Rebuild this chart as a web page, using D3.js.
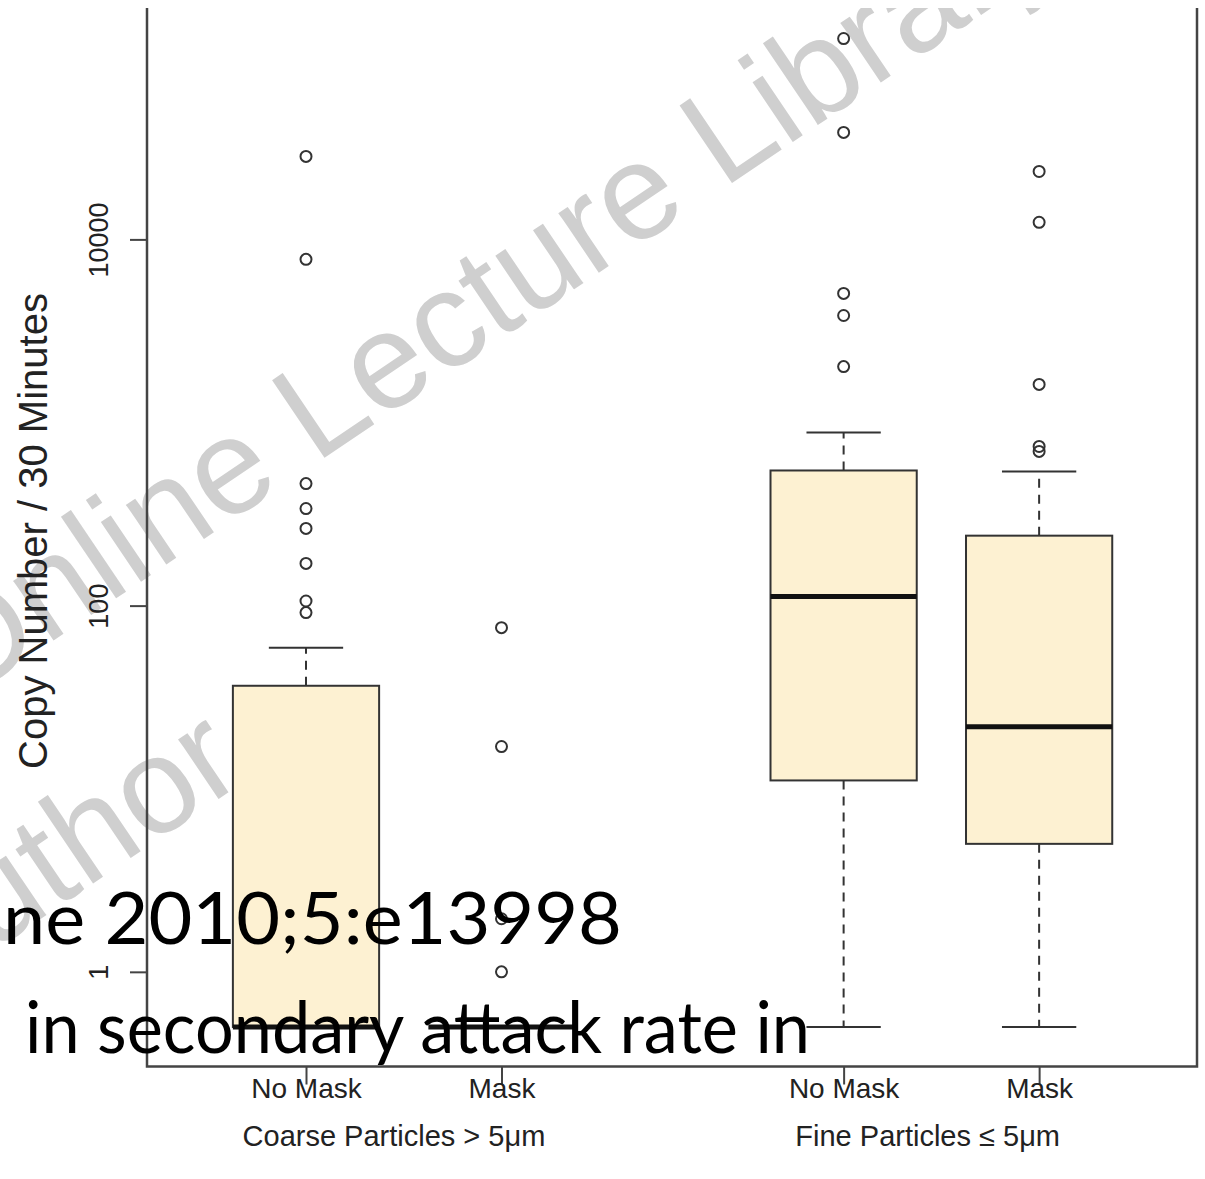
<!DOCTYPE html>
<html>
<head>
<meta charset="utf-8">
<script src="https://cdn.jsdelivr.net/npm/d3@7"></script>
<style>
  html, body { margin: 0; padding: 0; background: #ffffff; }
  svg { display: block; }
</style>
</head>
<body>
<svg id="chart" width="1205" height="1179"></svg>
<script>
// ---------------- data ----------------
const categories   = ["No Mask", "Mask", "No Mask", "Mask"];
const groupLabels  = ["Coarse Particles > 5\u03bcm", "Fine Particles \u2264 5\u03bcm"];
const boxSlot      = [1, 2, 3.75, 4.75];      // box slot on the category axis
const groupSlot    = [1.45, 4.18];            // where the group captions sit
const whiskerLow   = [0.5, 0.5, 0.5, 0.5];
const q1           = [0.5, 0.5, 11.1, 5.0];
const medians      = [0.5, 0.5, 112, 21.8];
const q3           = [36.5, 0.5, 547, 241];
const whiskerHigh  = [58.9, 0.5, 882, 540];
const outliers     = [
  [91.6, 106, 170, 264, 339, 464, 7780, 28400],
  [1.0, 1.95, 17.0, 75.8],
  [2020, 3840, 5070, 38400, 125000],
  [695, 740, 1614, 12400, 23500]
];
const yTickValues  = [1, 100, 10000];
const yTickLabels  = ["1", "100", "10000"];
const yTitle       = "Copy Number / 30 Minutes";
const overlayLines = ["ne 2010;5:e13998", "in secondary attack rate in"];
const watermarkLines = ["Online Lecture Library", "Author"];

// ---------------- layout ----------------
const svg = d3.select("#chart");
const plot = { left: 147, right: 1197, top: -1, bottom: 1066.5 };

const allVals = [].concat(whiskerLow, whiskerHigh, ...outliers);
const lmin = Math.log10(d3.min(allVals)), lmax = Math.log10(d3.max(allVals));
const pad = (lmax - lmin) * 0.04;
const y = d3.scaleLog()
  .domain([Math.pow(10, lmin - pad), Math.pow(10, lmax + pad)])
  .range([plot.bottom, plot.top]);

const unit = 195.5;
const x = d3.scaleLinear()
  .domain([1, 2])
  .range([306, 306 + unit]);

const boxHalf = 0.374, capHalf = 0.19;

// ---------------- watermark (behind) ----------------
const wm = svg.append("g")
  .attr("fill", "#cfcfcf")
  .attr("font-family", "'Liberation Sans', Arial, sans-serif")
  .attr("font-size", 136);
wm.append("text").attr("transform", "translate(-42,705) rotate(-34)").text(watermarkLines[0]);
wm.append("text").attr("transform", "translate(-84,1003) rotate(-34)").text(watermarkLines[1]);

// ---------------- boxes ----------------
const g = svg.append("g");
categories.forEach((c, i) => {
  const cx = x(boxSlot[i]);
  const x0 = x(boxSlot[i] - boxHalf), x1 = x(boxSlot[i] + boxHalf);
  const cx0 = x(boxSlot[i] - capHalf), cx1 = x(boxSlot[i] + capHalf);
  if (whiskerHigh[i] > q3[i]) {
    g.append("line").attr("x1", cx).attr("x2", cx)
      .attr("y1", y(q3[i])).attr("y2", y(whiskerHigh[i]))
      .attr("stroke", "#333").attr("stroke-width", 2).attr("stroke-dasharray", "9,7");
  }
  if (whiskerLow[i] < q1[i]) {
    g.append("line").attr("x1", cx).attr("x2", cx)
      .attr("y1", y(q1[i])).attr("y2", y(whiskerLow[i]))
      .attr("stroke", "#333").attr("stroke-width", 2).attr("stroke-dasharray", "9,7");
  }
  [whiskerLow[i], whiskerHigh[i]].forEach(v => {
    g.append("line").attr("x1", cx0).attr("x2", cx1)
      .attr("y1", y(v)).attr("y2", y(v))
      .attr("stroke", "#333").attr("stroke-width", 2);
  });
  g.append("rect")
    .attr("x", x0).attr("width", x1 - x0)
    .attr("y", y(q3[i])).attr("height", Math.max(0, y(q1[i]) - y(q3[i])))
    .attr("fill", "#fdf1d2").attr("stroke", "#333").attr("stroke-width", 2);
  g.append("line").attr("x1", x0).attr("x2", x1)
    .attr("y1", y(medians[i])).attr("y2", y(medians[i]))
    .attr("stroke", "#111").attr("stroke-width", 5);
  g.selectAll(null).data(outliers[i]).join("circle")
    .attr("cx", cx).attr("cy", d => y(d)).attr("r", 5.5)
    .attr("fill", "none").attr("stroke", "#333").attr("stroke-width", 2);
});

// ---------------- frame ----------------
svg.append("rect")
  .attr("x", plot.left).attr("y", plot.top)
  .attr("width", plot.right - plot.left).attr("height", plot.bottom - plot.top)
  .attr("fill", "none").attr("stroke", "#444").attr("stroke-width", 2.5);

// slide title strip covering the top edge of the figure
svg.append("rect").attr("x", 0).attr("y", 0).attr("width", 1205).attr("height", 8)
  .attr("fill", "#ffffff");

// ---------------- y axis ----------------
const yAxis = svg.append("g")
  .attr("transform", `translate(${plot.left},0)`)
  .call(d3.axisLeft(y).tickValues(yTickValues).tickSize(17)
        .tickFormat((d, i) => yTickLabels[i]));
yAxis.select(".domain").remove();
yAxis.selectAll(".tick line").attr("stroke", "#444").attr("stroke-width", 2);
yAxis.selectAll(".tick text")
  .attr("x", null).attr("dy", null)
  .attr("transform", "translate(-39,0) rotate(-90)")
  .attr("text-anchor", "middle")
  .attr("font-family", "'Liberation Sans', Arial, sans-serif")
  .attr("font-size", 27).attr("fill", "#222");

svg.append("text")
  .attr("transform", `translate(47,${531}) rotate(-90)`)
  .attr("text-anchor", "middle")
  .attr("font-family", "'Liberation Sans', Arial, sans-serif")
  .attr("font-size", 40).attr("fill", "#222")
  .text(yTitle);

// ---------------- x axis ----------------
const xAxis = svg.append("g")
  .attr("transform", `translate(0,${plot.bottom})`)
  .call(d3.axisBottom(x).tickValues(boxSlot).tickSize(18)
        .tickFormat((d, i) => categories[i]));
xAxis.select(".domain").remove();
xAxis.selectAll(".tick line").attr("stroke", "#444").attr("stroke-width", 2);
xAxis.selectAll(".tick text")
  .attr("y", 31).attr("dy", "0")
  .attr("font-family", "'Liberation Sans', Arial, sans-serif")
  .attr("font-size", 28).attr("fill", "#222");

svg.selectAll(".grp").data(groupLabels).join("text")
  .attr("class", "grp")
  .attr("x", (d, i) => x(groupSlot[i])).attr("y", 1146)
  .attr("text-anchor", "middle")
  .attr("font-family", "'Liberation Sans', Arial, sans-serif")
  .attr("font-size", 29).attr("fill", "#222")
  .text(d => d);

// ---------------- slide text overlay ----------------
const ov = svg.append("g")
  .attr("font-family", "Lato, 'Open Sans', sans-serif")
  .attr("font-size", 72).attr("fill", "#000");
ov.append("text").attr("x", 3).attr("y", 944)
  .attr("textLength", 619).attr("lengthAdjust", "spacingAndGlyphs")
  .text(overlayLines[0]);
ov.append("text").attr("x", 25).attr("y", 1053)
  .attr("textLength", 785).attr("lengthAdjust", "spacingAndGlyphs")
  .text(overlayLines[1]);
</script>
</body>
</html>
